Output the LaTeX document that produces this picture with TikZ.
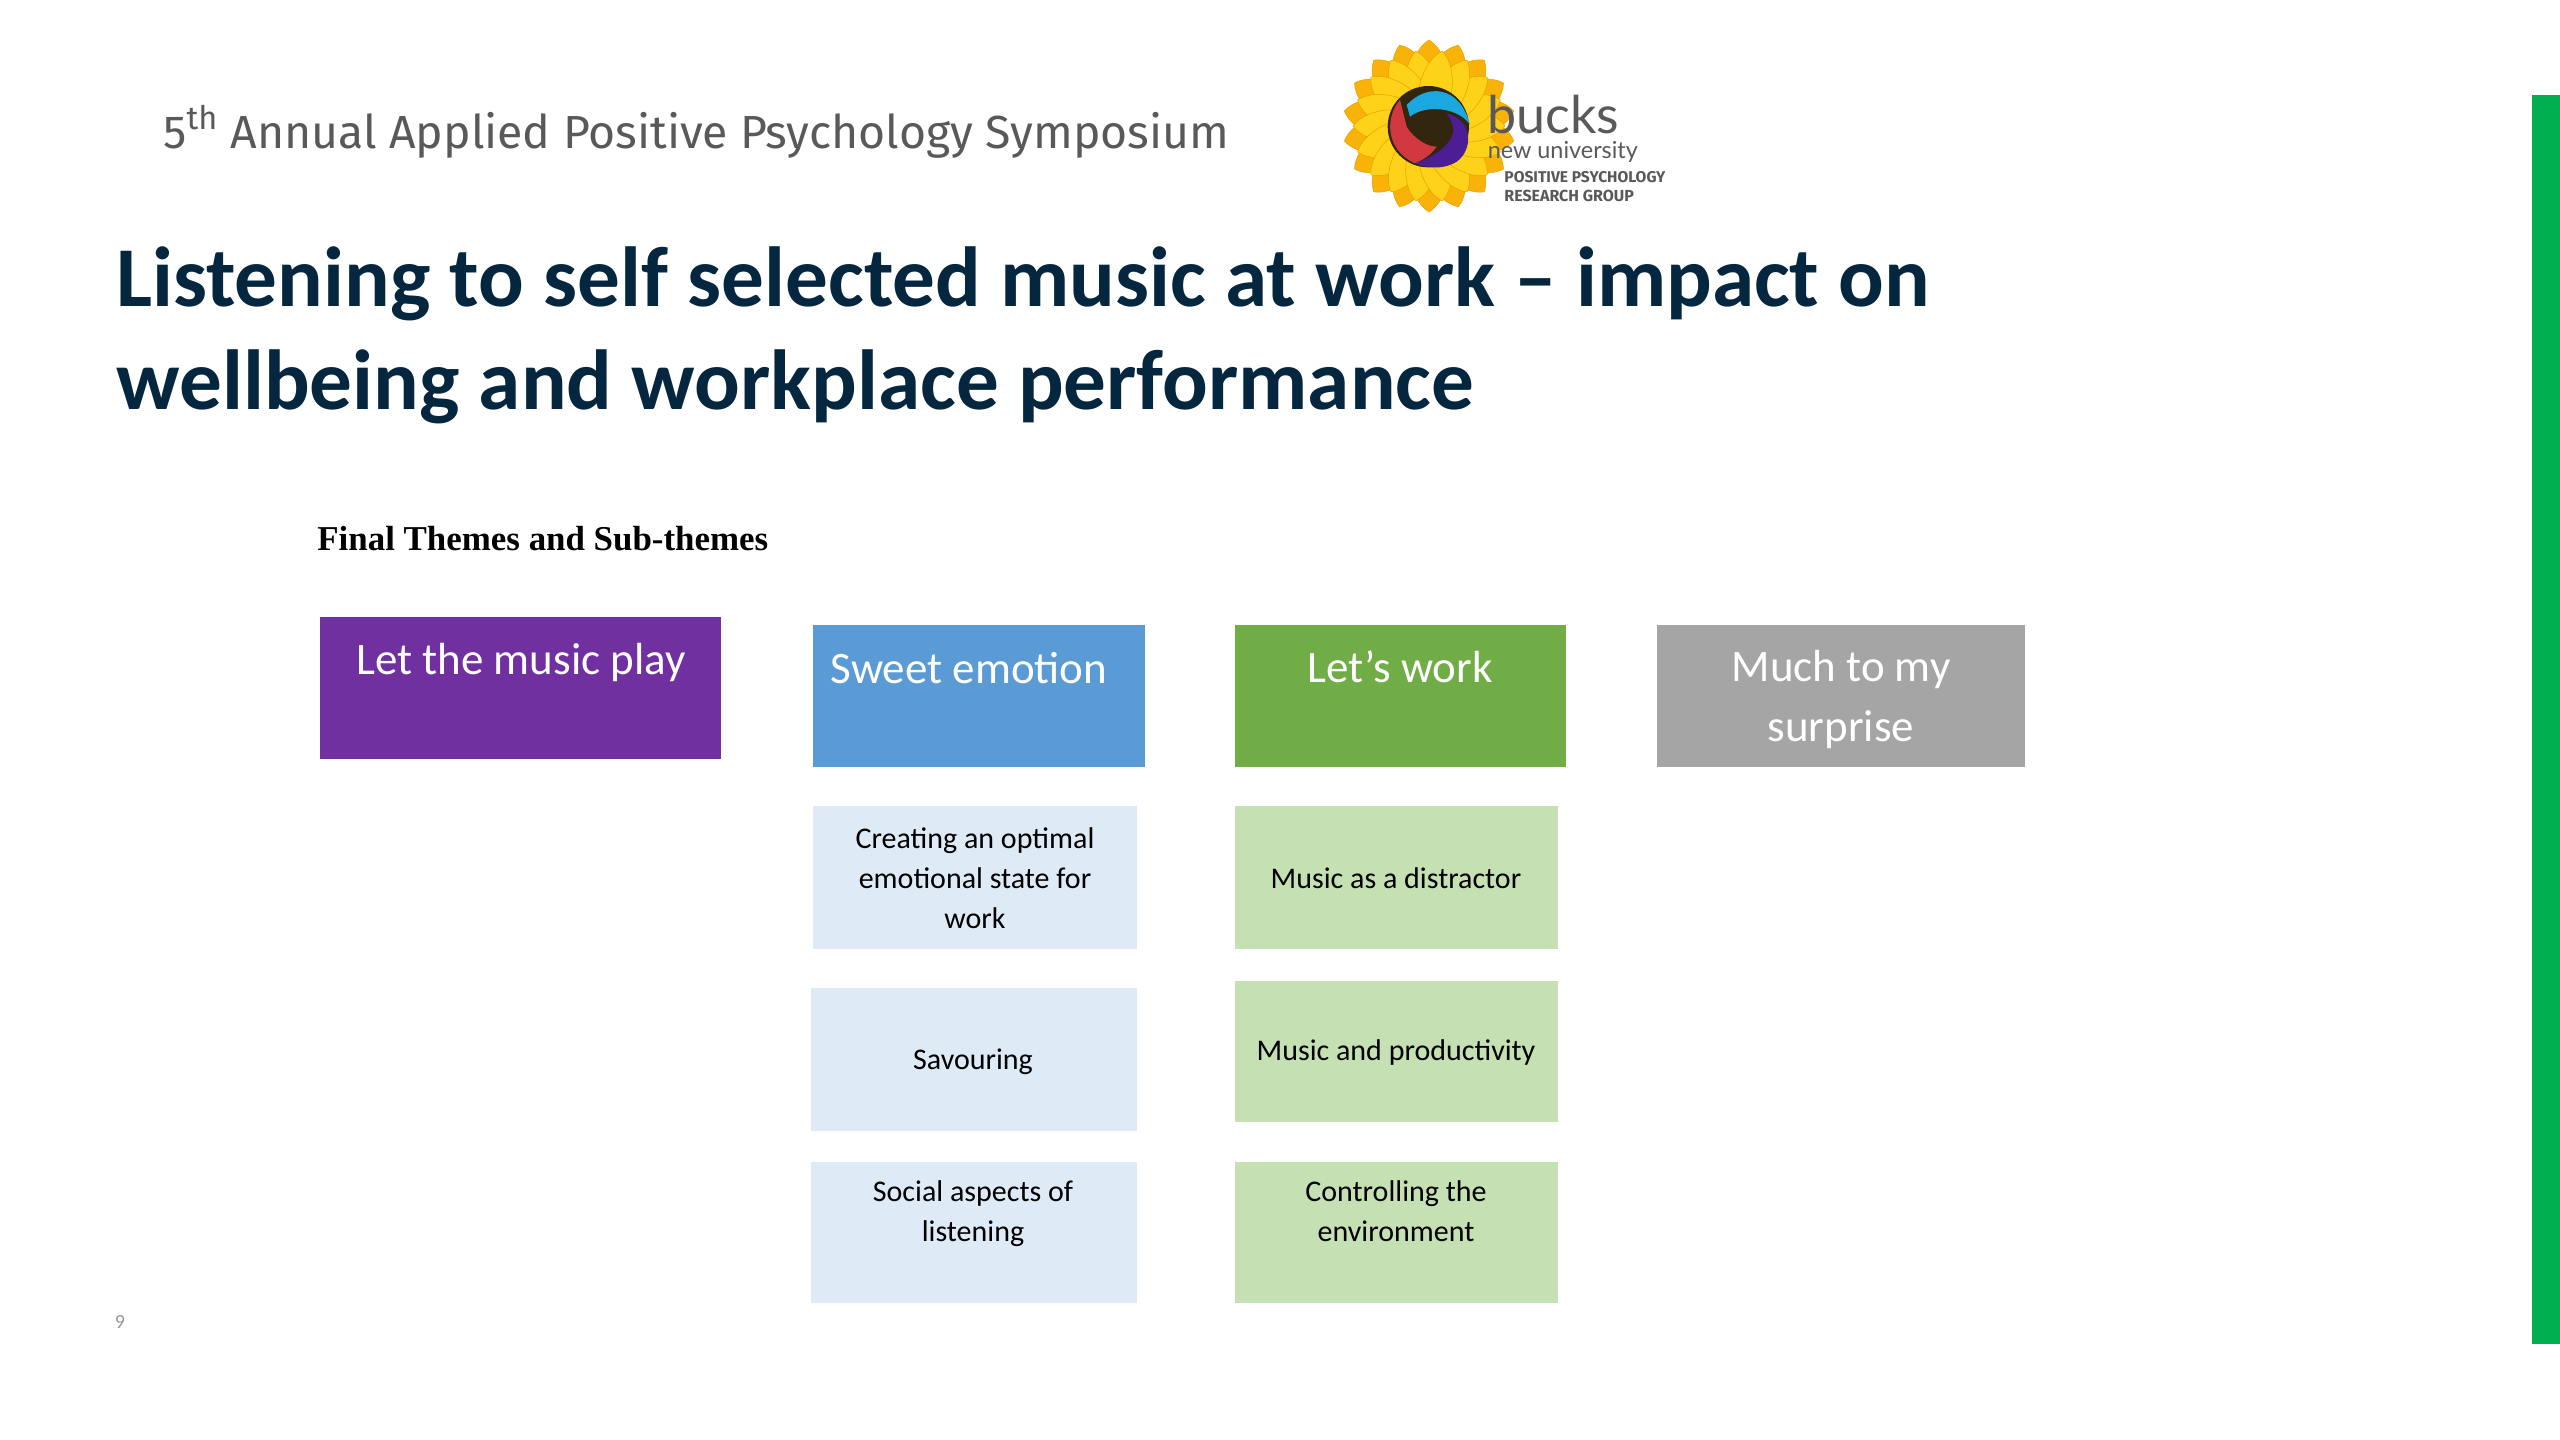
\documentclass[tikz,border=0pt]{standalone}
\usepackage{fontspec}
\setmainfont{Carlito}
\newfontfamily\headfont{Fira Sans}
\newfontfamily\serifhead{Liberation Serif}
\newfontfamily\logofont{Lato}
\definecolor{cpurple}{HTML}{7030A0}
\definecolor{cblue}{HTML}{5B9BD5}
\definecolor{cgreen}{HTML}{70AD47}
\definecolor{cgrey}{HTML}{A5A5A5}
\definecolor{lblue}{HTML}{DEEAF6}
\definecolor{lgreen}{HTML}{C5E0B3}
\definecolor{barc}{HTML}{00B050}
\definecolor{titlec}{HTML}{04263F}
\definecolor{headc}{HTML}{595959}
\definecolor{petalback}{HTML}{F9B208}
\definecolor{petalfront}{HTML}{FFD21A}
\definecolor{petalline}{HTML}{E8A000}
\definecolor{swirlblue}{HTML}{1BA7E0}
\definecolor{swirlred}{HTML}{D2383F}
\definecolor{swirlviolet}{HTML}{4B1E96}
\definecolor{swirlcore}{HTML}{33260F}
\tikzset{
  box/.style={anchor=north west,inner sep=0pt,outer sep=0pt},
  themetext/.style={text=white,align=center,inner sep=0pt,font=\fontsize{22.5}{30}\selectfont},
  subtext/.style={text=black,align=center,inner sep=0pt,font=\fontsize{15}{20}\selectfont},
  titletext/.style={anchor=base west,inner sep=0pt,text=titlec,font=\fontsize{42.6}{42.6}\selectfont\bfseries},
  logotext/.style={anchor=base west,inner sep=0pt,text=headc},
  petal/.style={fill=#1,draw=petalline,line width=0.25pt},
}
\begin{document}
\begin{tikzpicture}[x=0.5pt,y=-0.5pt]
\useasboundingbox (0,0) rectangle (2560,1440);
\fill[white] (0,0) rectangle (2560,1440);
% side bar
\node[box,fill=barc,minimum width=14pt,minimum height=624.5pt] (bar) at (2532,95) {};
% header
\node[anchor=base west,inner sep=0pt,text=headc,font=\headfont\fontsize{23.2}{23.2}\selectfont] (head) at (163,148) {5\textsuperscript{th} Annual Applied Positive Psychology Symposium};
% title
\node[titletext] (title1) at (116,306) {Listening to self selected music at work -- impact on};
\node[titletext] (title2) at (116,409) {wellbeing and workplace performance};
% subheading
\node[anchor=base west,inner sep=0pt,text=black,font=\serifhead\bfseries\fontsize{17.45}{17.45}\selectfont] (final) at (317,550) {Final Themes and Sub-themes};
% theme boxes
\node[box,fill=cpurple,minimum width=200.5pt,minimum height=71pt] (b1) at (320,617) {};
\node[box,fill=cblue,minimum width=166pt,minimum height=71pt] (b2) at (813,625) {};
\node[box,fill=cgreen,minimum width=165.5pt,minimum height=71pt] (b3) at (1235,625) {};
\node[box,fill=cgrey,minimum width=184pt,minimum height=71pt] (b4) at (1657,625) {};
\node[themetext] (t1) at (521,662) {Let the music play};
\node[themetext] (t2) at (969,668) {Sweet emotion};
\node[themetext] (t3) at (1400,667) {Let’s work};
\node[themetext] (t4) at (1841,699) {Much to my\\surprise};
% sub-theme boxes
\node[box,fill=lblue,minimum width=162pt,minimum height=71.5pt] (s1) at (813,806) {};
\node[box,fill=lblue,minimum width=163pt,minimum height=71.5pt] (s2) at (811,988) {};
\node[box,fill=lblue,minimum width=163pt,minimum height=70.5pt] (s3) at (811,1162) {};
\node[box,fill=lgreen,minimum width=161.5pt,minimum height=71.5pt] (g1) at (1235,806) {};
\node[box,fill=lgreen,minimum width=161.5pt,minimum height=70.5pt] (g2) at (1235,981) {};
\node[box,fill=lgreen,minimum width=161.5pt,minimum height=70.5pt] (g3) at (1235,1162) {};
\node[subtext] (st1) at (975,878) {Creating an optimal\\emotional state for\\work};
\node[subtext] (st2) at (973,1062) {Savouring};
\node[subtext] (st3) at (973,1214) {Social aspects of\\listening};
\node[subtext] (gt1) at (1396,878) {Music as a distractor};
\node[subtext] (gt2) at (1396,1052) {Music and productivity};
\node[subtext] (gt3) at (1396,1211) {Controlling the\\environment};
% page number
\node[inner sep=0pt,text=gray!80,font=\fontsize{10}{10}\selectfont] (pnum) at (120,1322) {9};
% logo
\begin{scope}[shift={(1300,20)},x=0.16667pt,y=-0.16667pt]
  \foreach \a in {0,20,...,340}{
    \filldraw[petal=petalback,rotate around={\a:(387,318)}]
      (387,318) .. controls (300,250) and (320,100) .. (387,60) .. controls (454,100) and (474,250) .. (387,318) -- cycle;
  }
  \foreach \a in {10,30,...,350}{
    \filldraw[petal=petalfront,rotate around={\a:(387,318)}]
      (387,318) .. controls (310,260) and (335,125) .. (387,90) .. controls (439,125) and (464,260) .. (387,318) -- cycle;
  }
  \fill[swirlcore] (385,320) circle (122);
  \fill[swirlblue] (320,255) .. controls (380,190) and (480,195) .. (510,315) .. controls (480,265) and (380,250) .. (330,290) -- cycle;
  \fill[swirlred] (300,240) .. controls (255,290) and (255,390) .. (345,430) .. controls (380,415) and (400,395) .. (410,380) .. controls (370,380) and (330,340) .. (320,320) -- cycle;
  \fill[swirlviolet] (440,280) .. controls (520,300) and (520,390) .. (470,425) .. controls (430,450) and (385,445) .. (345,430) .. controls (400,410) and (450,380) .. (460,335) .. controls (460,310) and (450,295) .. (440,280) -- cycle;
  \node[logotext,font=\logofont\fontsize{26}{26}\selectfont] (bucks) at (560,340) {bucks};
  \node[logotext,font=\logofont\fontsize{11.7}{11.7}\selectfont] (newu) at (562,415) {new university};
  \node[logotext,font=\headfont\bfseries\fontsize{7.8}{7.8}\selectfont] (pos) at (612,488) {POSITIVE PSYCHOLOGY};
  \node[logotext,font=\headfont\bfseries\fontsize{8}{8}\selectfont] (res) at (612,545) {RESEARCH GROUP};
\end{scope}
\end{tikzpicture}
\end{document}
